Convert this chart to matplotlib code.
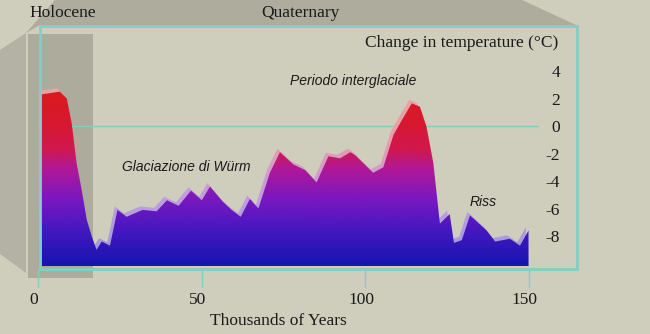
import numpy as np
import matplotlib.pyplot as plt
from matplotlib.colors import LinearSegmentedColormap
from matplotlib.patches import Polygon, Rectangle
from matplotlib.transforms import ScaledTranslation

# Temperature change (°C) versus thousands of years ago
anni = [1.0, 6.7, 8.8, 10.3, 11.8, 13.4, 14.9, 16.4, 17.9, 19.5, 22.0, 24.3,
        27.1, 32.0, 36.3, 39.4, 43.0, 46.8, 50.1, 52.6, 56.5, 59.2, 62.0,
        64.8, 67.4, 70.9, 74.0, 78.1, 81.7, 85.2, 88.8, 92.4, 95.5, 96.9,
        102.5, 105.6, 108.7, 111.2, 114.3, 116.8, 118.8, 120.9, 121.9, 122.9,
        125.9, 127.2, 129.6, 132.1, 137.2, 139.8, 144.3, 147.4, 150.0]
temp = [2.3, 2.5, 2.0, 0.2, -2.7, -4.7, -6.8, -8.0, -9.0, -8.4, -8.7, -6.1,
        -6.6, -6.1, -6.2, -5.4, -5.8, -4.7, -5.4, -4.4, -5.5, -6.1, -6.6,
        -5.3, -6.0, -3.4, -1.9, -2.8, -3.2, -4.1, -2.2, -2.35, -1.9, -2.1,
        -3.4, -3.0, -0.65, 0.4, 1.65, 1.4, -0.05, -2.7, -4.9, -7.1,
        -6.4, -8.5, -8.3, -6.5, -7.6, -8.4, -8.2, -8.7, -7.6]
xticks = [0, 50, 100, 150]
yticks = [4, 2, 0, -2, -4, -6, -8]

sfondo = '#cfcdbc'
grigio = '#adac9d'
teal = '#82cfc4'
serif = 'Liberation Serif'

fig = plt.figure(figsize=(6.5, 3.34), dpi=100)
fig.patch.set_facecolor(sfondo)

# decorazioni in coordinate pixel
bg = fig.add_axes([0, 0, 1, 1])
bg.set_xlim(0, 650)
bg.set_ylim(334, 0)
bg.axis('off')
bg.add_patch(Polygon([(55, 0), (522, 0), (576, 25), (40, 25), (26, 33)], closed=True,
                     facecolor=grigio, edgecolor='none'))
bg.add_patch(Polygon([(0, 50), (26, 33), (26, 273), (0, 254)], closed=True,
                     facecolor='#b3b2a4', edgecolor='none'))
bg.add_patch(Rectangle((28, 34), 65, 244, facecolor='#acab9c', edgecolor='none'))

bg.text(63, 13, 'Holocene', family=serif, fontsize=12.5, ha='center', va='center', color='#1a1a1a')
bg.text(300, 13, 'Quaternary', family=serif, fontsize=12.5, ha='center', va='center', color='#1a1a1a')
bg.text(558, 43, 'Change in temperature (°C)', family=serif, fontsize=12.5,
        ha='right', va='center', color='#1a1a1a')
bg.text(278, 321, 'Thousands of Years', family=serif, fontsize=12.5,
        ha='center', va='center', color='#1a1a1a')

# assi dei dati
ax = fig.add_axes([30 / 650, (334 - 270) / 334, 560 / 650, 250 / 334])
ax.patch.set_visible(False)
for s in ax.spines.values():
    s.set_visible(False)

t = np.array(anni)
v = np.array(temp)
base = -10.2

ax.plot([0, 153], [0, 0], color=teal, lw=1, zorder=1)

cmap = LinearSegmentedColormap.from_list('clima', [
    (0.0, '#1614b0'), (0.2, '#4418c0'), (0.37, '#7818c0'), (0.54, '#b0189a'),
    (0.65, '#d01850'), (0.8, '#d81830'), (1.0, '#dc1a1c')])
chiaro = LinearSegmentedColormap.from_list('ombra', [
    (0.0, '#9a98d8'), (0.2, '#ae9ce0'), (0.37, '#c09ce0'), (0.54, '#d49ccc'),
    (0.65, '#e49cb0'), (0.8, '#e8a0a8'), (1.0, '#e8a4a0')])
grad = np.linspace(0, 1, 256).reshape(-1, 1)

# ombra spostata in alto a sinistra
ombra = ax.fill_between(t - 0.8, v + 0.25, base, facecolor='none', edgecolor='none')
im0 = ax.imshow(grad, extent=[-1, 151, base, 2.8], origin='lower', aspect='auto',
                cmap=chiaro, zorder=2)
im0.set_clip_path(ombra.get_paths()[0], transform=ax.transData)

area = ax.fill_between(t, v, base, facecolor='none', edgecolor='none')
im = ax.imshow(grad, extent=[0, 151, base, 2.8], origin='lower', aspect='auto',
               cmap=cmap, zorder=3)
im.set_clip_path(area.get_paths()[0], transform=ax.transData)

ax.set_xlim(-2.45, 168.8)
ax.set_ylim(-10.47, 7.71)

ax.set_xticks(xticks, labels=[str(x) for x in xticks])
ax.tick_params(axis='x', length=12, width=1, color=teal, direction='out', pad=4,
               labelsize=12.5, labelcolor='#1a1a1a')
for lbl in ax.get_xticklabels():
    lbl.set_family(serif)
    lbl.set_transform(lbl.get_transform() + ScaledTranslation(-0.04, 0, fig.dpi_scale_trans))

ax.yaxis.tick_right()
ax.set_yticks(yticks, labels=[str(y) for y in yticks])
ax.tick_params(axis='y', length=0, pad=-21.6, labelsize=12.5, labelcolor='#1a1a1a')
for lbl in ax.get_yticklabels():
    lbl.set_family(serif)
    lbl.set_horizontalalignment('right')

ax.text(45.3, -3.0, 'Glaciazione di Würm', family='Liberation Sans', style='italic',
        fontsize=10, ha='center', va='center', color='#1a1a1a', zorder=5)
ax.text(96.5, 3.3, 'Periodo interglaciale', family='Liberation Sans', style='italic',
        fontsize=10, ha='center', va='center', color='#1a1a1a', zorder=5)
ax.text(136.1, -5.55, 'Riss', family='Liberation Sans', style='italic',
        fontsize=10, ha='center', va='center', color='#1a1a1a', zorder=5)

# cornice
ax.add_patch(Rectangle((40, 26), 537, 243, facecolor='none', edgecolor=teal, lw=2,
                       transform=bg.transData, clip_on=False, zorder=6))

fig.savefig('out.png', dpi=100, facecolor=sfondo)
